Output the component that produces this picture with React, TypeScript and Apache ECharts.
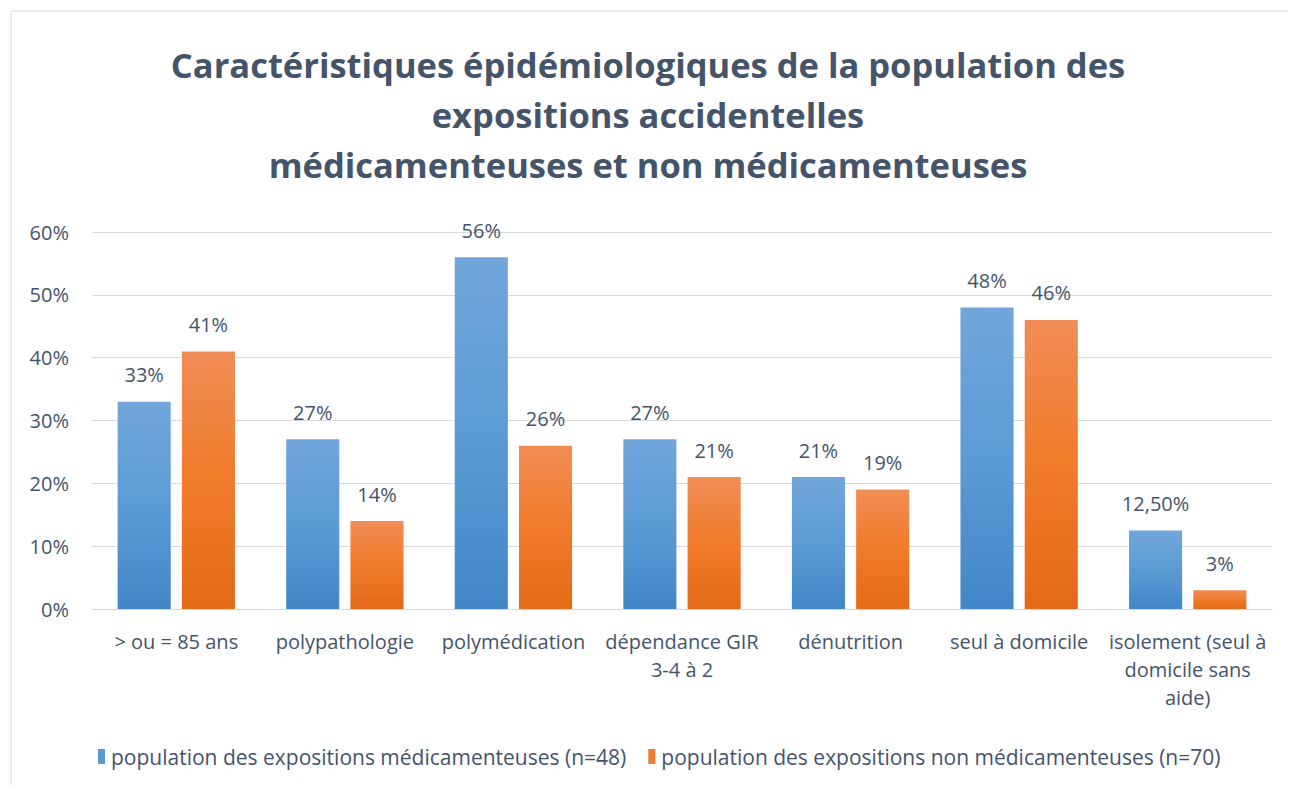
import React, { useEffect, useRef } from "react";
import * as echarts from "echarts";

const categories = [
  "> ou = 85 ans",
  "polypathologie",
  "polymédication",
  "dépendance GIR\n3-4 à 2",
  "dénutrition",
  "seul à domicile",
  "isolement (seul à\ndomicile sans\naide)",
];
const seriesNames = [
  "population des expositions médicamenteuses (n=48)",
  "population des expositions non médicamenteuses (n=70)",
];
const medValues = [33, 27, 56, 27, 21, 48, 12.5];
const nonMedValues = [41, 14, 26, 21, 19, 46, 3];
const medLabels = ["33%", "27%", "56%", "27%", "21%", "48%", "12,50%"];
const nonMedLabels = ["41%", "14%", "26%", "21%", "19%", "46%", "3%"];
const titleText =
  "Caractéristiques épidémiologiques de la population des\nexpositions accidentelles\nmédicamenteuses et non médicamenteuses";

const TEXT = "#44546A";
const FONT = "'Open Sans', 'Noto Sans', sans-serif";

export default function App() {
  const ref = useRef<HTMLDivElement>(null);
  useEffect(() => {
    const chart = echarts.init(ref.current!, null, { renderer: "svg" });
    const blue = new echarts.graphic.LinearGradient(0, 0, 0, 1, [
      { offset: 0, color: "#72A6DB" },
      { offset: 0.5, color: "#5B9BD5" },
      { offset: 1, color: "#4286C7" },
    ]);
    const orange = new echarts.graphic.LinearGradient(0, 0, 0, 1, [
      { offset: 0, color: "#F08D57" },
      { offset: 0.5, color: "#F07B2A" },
      { offset: 1, color: "#E36A17" },
    ]);
    chart.setOption({
      animation: false,
      backgroundColor: "#ffffff",
      graphic: [
        {
          type: "rect",
          shape: { x: 3, y: 3, width: 1300, height: 800 },
          style: { fill: "none", stroke: "#D9D9D9", lineWidth: 1 },
          silent: true,
        },
      ],
      title: {
        text: titleText,
        left: "center",
        top: 26,
        textStyle: {
          fontFamily: FONT,
          fontSize: 34.5,
          fontWeight: "bold",
          color: TEXT,
          lineHeight: 50,
        },
      },
      legend: {
        bottom: 13,
        left: 85,
        itemWidth: 7,
        itemHeight: 15,
        itemGap: 22,
        icon: "rect",
        textStyle: { fontFamily: FONT, fontSize: 21, color: TEXT, padding: [0, 0, 0, 1] },
        data: [
          { name: seriesNames[0], itemStyle: { color: "#5B9BD5" } },
          { name: seriesNames[1], itemStyle: { color: "#ED7D31" } },
        ],
      },
      grid: { left: 84, right: 16, top: 224, bottom: 176, containLabel: false },
      xAxis: {
        type: "category",
        data: categories,
        axisLine: { show: true, lineStyle: { color: "#D9D9D9", width: 1 } },
        axisTick: { show: false },
        axisLabel: {
          fontFamily: FONT,
          fontSize: 20,
          color: TEXT,
          margin: 18,
          lineHeight: 28,
          interval: 0,
        },
      },
      yAxis: {
        type: "value",
        min: 0,
        max: 60,
        interval: 10,
        axisLine: { show: false },
        axisTick: { show: false },
        splitLine: { lineStyle: { color: "#D9D9D9", width: 1 } },
        axisLabel: {
          fontFamily: FONT,
          fontSize: 20,
          color: TEXT,
          margin: 23,
          formatter: (v: number) => v + "%",
        },
      },
      series: [
        {
          name: seriesNames[0],
          type: "bar",
          data: medValues,
          barWidth: "31.5%",
          barGap: "21%",
          itemStyle: { color: blue },
          label: {
            show: true,
            position: "top",
            distance: 17,
            fontFamily: FONT,
            fontSize: 20,
            color: TEXT,
            formatter: (p: any) => medLabels[p.dataIndex],
          },
        },
        {
          name: seriesNames[1],
          type: "bar",
          data: nonMedValues,
          barWidth: "31.5%",
          itemStyle: { color: orange },
          label: {
            show: true,
            position: "top",
            distance: 17,
            fontFamily: FONT,
            fontSize: 20,
            color: TEXT,
            formatter: (p: any) => nonMedLabels[p.dataIndex],
          },
        },
      ],
    });
    return () => chart.dispose();
  }, []);
  return <div ref={ref} style={{ width: 1280, height: 777 }} />;
}
